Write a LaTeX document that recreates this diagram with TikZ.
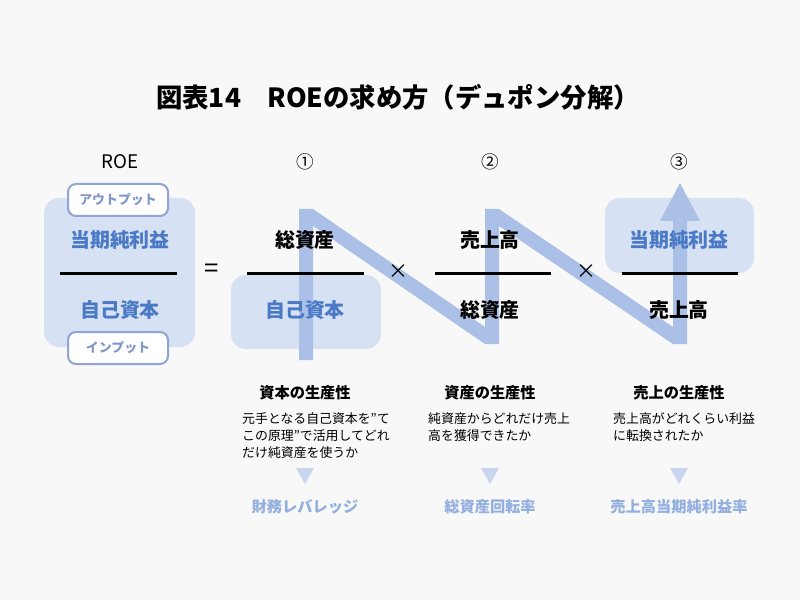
\documentclass[tikz,border=0pt]{standalone}
\usepackage{fontspec}
\setmainfont{Noto Sans CJK JP}
\usetikzlibrary{positioning}

\definecolor{bgcol}{HTML}{F8F8F8}
\definecolor{boxblue}{HTML}{D6E1F3}
\definecolor{bandblue}{HTML}{AAC0E6}
\definecolor{textblue}{HTML}{4A79C6}
\definecolor{tagline}{HTML}{8FA5D3}
\definecolor{tagtext}{HTML}{8197C9}
\definecolor{paleblue}{HTML}{93AFE0}
\definecolor{triblue}{HTML}{C9D6F0}

\tikzset{
  term/.style={inner sep=0pt, font=\fontsize{17}{20}\selectfont\bfseries},
  blueterm/.style={term, text=textblue},
  markno/.style={inner sep=0pt, font=\fontsize{15}{18}\selectfont},
  optag/.style={draw=tagline, line width=0.6mm, fill=white, rounded corners=2.4mm,
    minimum width=30mm, minimum height=9.6mm, inner sep=0pt, text=tagtext,
    font=\fontsize{11}{13}\selectfont\bfseries},
  bluebox/.style={fill=boxblue, rounded corners=4.5mm},
  heading/.style={inner sep=0pt, font=\fontsize{13}{15}\selectfont\bfseries},
  desc/.style={inner sep=0pt, anchor=north west, align=left,
    font=\fontsize{11}{14.5}\selectfont},
  result/.style={inner sep=0pt, text=paleblue, font=\fontsize{13}{15}\selectfont\bfseries},
  fracbar/.style={line width=0.9mm}
}

\begin{document}
\begin{tikzpicture}[x=0.3mm, y=-0.3mm]
    \fill[bgcol] (0,0) rectangle (800,600);
    \useasboundingbox (0,0) rectangle (800,600);

    % title
    \node(title) [inner sep=0pt, font=\fontsize{22.5}{26}\selectfont\bfseries] at (398,97) {図表14　ROEの求め方（デュポン分解）};

    % boxes behind the terms
    \fill[bluebox] (44,198) rectangle (195,347);
    \fill[bluebox] (231,275) rectangle (381,349);
    \fill[bluebox] (605,198) rectangle (754,273);

    % zigzag band
    \fill[bandblue] (299,360) -- (299,209) -- (313,209) -- (485,327) -- (485,209) -- (499,209)
        -- (673,327) -- (673,221) -- (660,221) -- (680,183) -- (700,221) -- (687,221)
        -- (687,344) -- (673,344) -- (499,226) -- (499,344) -- (485,344) -- (313,226)
        -- (313,360) -- cycle;

    % ROE
    \node(roe) [markno, font=\fontsize{16}{18}\selectfont] at (120,162) {ROE};
    \node(lnum) [blueterm] at (120,240) {当期純利益};
    \node(lden) [blueterm] at (120,310) {自己資本};
    \draw[fracbar] (60,273) -- (177,273);
    \node(outtag) [optag] at (118,200) {アウトプット};
    \node(intag) [optag] at (118,348) {インプット};
    \node(eq) [markno, font=\fontsize{22}{24}\selectfont] at (212,271) {=};

    % (1)
    \node(no1) [markno] at (305,162) {①};
    \node(num1) [term] at (305,240) {総資産};
    \draw[fracbar] (247,273) -- (364,273);
    \node(den1) [blueterm] at (305,310) {自己資本};
    \node(times1) [markno, font=\fontsize{17}{20}\selectfont] at (398,272) {×};

    % (2)
    \node(no2) [markno] at (490,162) {②};
    \node(num2) [term] at (490,240) {売上高};
    \draw[fracbar] (435,273) -- (551,273);
    \node(den2) [term] at (490,310) {総資産};
    \node(times2) [markno, font=\fontsize{17}{20}\selectfont] at (586,272) {×};

    % (3)
    \node(no3) [markno] at (679,162) {③};
    \node(num3) [blueterm] at (679,240) {当期純利益};
    \draw[fracbar] (622,273) -- (738,273);
    \node(den3) [term] at (679,310) {売上高};

    % explanations
    \node(head1) [heading] at (305,393) {資本の生産性};
    \node(head2) [heading] at (490,393) {資産の生産性};
    \node(head3) [heading] at (679,393) {売上の生産性};

    \node(desc1) [desc] at (242,412) {元手となる自己資本を"て\\この原理"で活用してどれ\\だけ純資産を使うか};
    \node(desc2) [desc] at (428,412) {純資産からどれだけ売上\\高を獲得できたか};
    \node(desc3) [desc] at (613,412) {売上高がどれくらい利益\\に転換されたか};

    \fill[triblue] (296,468) -- (314,468) -- (305,484) -- cycle;
    \fill[triblue] (481,468) -- (499,468) -- (490,484) -- cycle;
    \fill[triblue] (670,468) -- (688,468) -- (679,484) -- cycle;

    \node(res1) [result] at (305,507) {財務レバレッジ};
    \node(res2) [result] at (490,507) {総資産回転率};
    \node(res3) [result] at (679,507) {売上高当期純利益率};
\end{tikzpicture}
\end{document}
